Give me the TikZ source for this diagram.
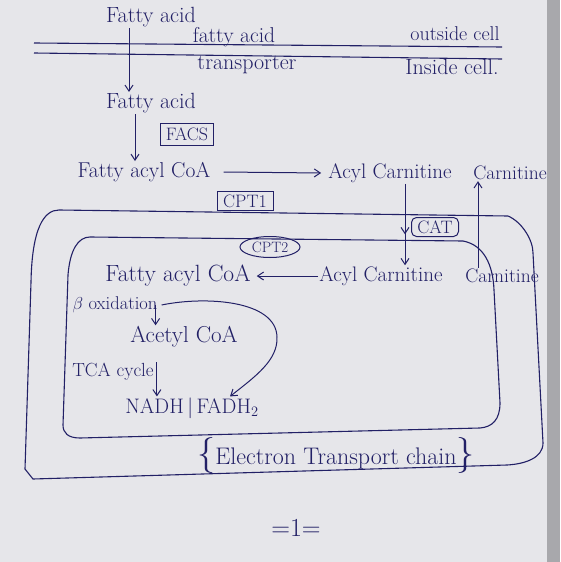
\documentclass[tikz,border=0pt]{standalone}
\usetikzlibrary{arrows.meta,shapes.geometric,decorations.markings}
\definecolor{ink}{RGB}{34,32,102}
\definecolor{paper}{RGB}{230,230,234}
\definecolor{edgegray}{RGB}{168,168,172}
\begin{document}
\begin{tikzpicture}[x=1pt,y=-1pt,
  lbl/.style={text=ink, inner sep=1pt},
  fs/.style={font=\fontsize{#1}{#1}\selectfont},
  enz/.style={draw=ink, text=ink, line width=1pt, inner sep=2pt, fs=18},
  memb/.style={draw=ink, line width=1.1pt},
  arr/.style={color=ink, line width=1pt, -{Straight Barb[length=6pt,width=8pt]}},
  midarrow/.style={postaction={decorate}, decoration={markings,
     mark=at position 0.62 with {\arrow[color=ink]{Straight Barb[length=6pt,width=8pt]}}}}
]
\useasboundingbox (0,0) rectangle (560,562);
\fill[paper] (0,0) rectangle (560,562);
\fill[edgegray] (547,0) rectangle (560,562);

% cell membrane
\coordinate (mo1) at (34,43);
\coordinate (mo2) at (502,47);
\coordinate (mi1) at (34,53);
\coordinate (mi2) at (502,59);
\draw[memb] (mo1) -- (mo2);
\draw[memb] (mi1) -- (mi2);

% top texts
\node[lbl, fs=22] (fa1) at (151,17) {Fatty acid};
\node[lbl, fs=21.5] (fam) at (234,37) {fatty acid};
\node[lbl, fs=20] (out) at (455,34) {outside cell};
\node[lbl, fs=22] (tr) at (247,65) {transporter};
\node[lbl, fs=22] (ins) at (452,67) {Inside cell.};
\node[lbl, fs=22] (fa2) at (151,103) {Fatty acid};
\node[enz, minimum width=53pt, minimum height=22pt] (facs) at (187,134) {FACS};
\node[lbl, fs=21.5] (fac1) at (144,172) {Fatty acyl CoA};
\node[lbl, fs=21] (ac1) at (390,173) {Acyl Carnitine};
\node[lbl, fs=19.5] (car1) at (510,173) {Carnitine};

% mitochondrion outer membrane
\draw[memb] (59,210) -- (508,216)
  .. controls (522,222) and (533,240) .. (533,253)
  -- (543,443)
  .. controls (543,458) and (525,464) .. (507,465)
  -- (33,479) -- (25,469) -- (31,282)
  .. controls (32,228) and (44,210) .. (59,210);
% inner membrane
\draw[memb] (90,237) -- (463,241)
  .. controls (484,245) and (493,265) .. (494,290)
  -- (500,403)
  .. controls (500,420) and (492,427) .. (480,428)
  -- (80,438)
  .. controls (68,438) and (63,433) .. (63,425)
  -- (68,275)
  .. controls (70,250) and (78,237) .. (90,237);

\node[enz, minimum width=56pt, minimum height=19pt] (cpt1) at (245,201) {CPT1};
\node[enz, rounded corners=5pt, minimum width=47pt, minimum height=19pt] (cat) at (435,227) {CAT};
\node[enz, ellipse, fs=15, minimum width=60pt, minimum height=21pt, inner sep=0pt] (cpt2) at (270,247) {CPT2};

% matrix texts
\node[lbl, fs=23.5] (fac2) at (178,276) {Fatty acyl CoA};
\node[lbl, fs=21] (ac2) at (381,276) {Acyl Carnitine};
\node[lbl, fs=19.5] (car2) at (502,276) {Carnitine};
\node[lbl, fs=18.5] (beta) at (115,305) {$\beta$ oxidation};
\node[lbl, fs=23] (acet) at (184,337) {Acetyl CoA};
\node[lbl, fs=19] (tca) at (113,372) {TCA cycle};
\node[lbl, fs=21] (nadh) at (192,408) {NADH\,$|$\,FADH$_2$};
\node[lbl, fs=24] (etc) at (336,455) {{\fontsize{36}{36}\selectfont\{}Electron Transport chain{\fontsize{36}{36}\selectfont\}}};
\node[lbl, fs=26] (one) at (296,528) {=1=};

% arrows
\draw[arr] ([xshift=-22pt]fa1.south) -- ([xshift=-22pt]fa1.south |- fa2.north);
\draw[arr] ([xshift=-16pt]fa2.south) -- ([xshift=-16pt]fa2.south |- fac1.north);
\draw[arr] ([xshift=12pt]fac1.east) -- ([xshift=-6pt]ac1.west);
\draw[arr, midarrow] ([xshift=15pt]ac1.south) -- ([xshift=15pt]ac1.south |- ac2.north);
\draw[arr] ([xshift=-24pt]car2.north) -- ([xshift=-24pt]car2.north |- car1.south);
\draw[arr] (ac2.west) -- ([xshift=5pt]fac2.east);
\draw[arr] ([xshift=-3pt]beta.east) -- ([xshift=-3pt]beta.east |- acet.north);
\draw[arr] ([xshift=3pt]beta.east) .. controls (205,296) and (276,300) .. (277,337)
  .. controls (278,360) and (256,376) .. ([xshift=38pt]nadh.north);
\draw[arr] ([xshift=2pt]tca.north east) -- ([xshift=2pt]tca.north east |- nadh.north);
\end{tikzpicture}
\end{document}
